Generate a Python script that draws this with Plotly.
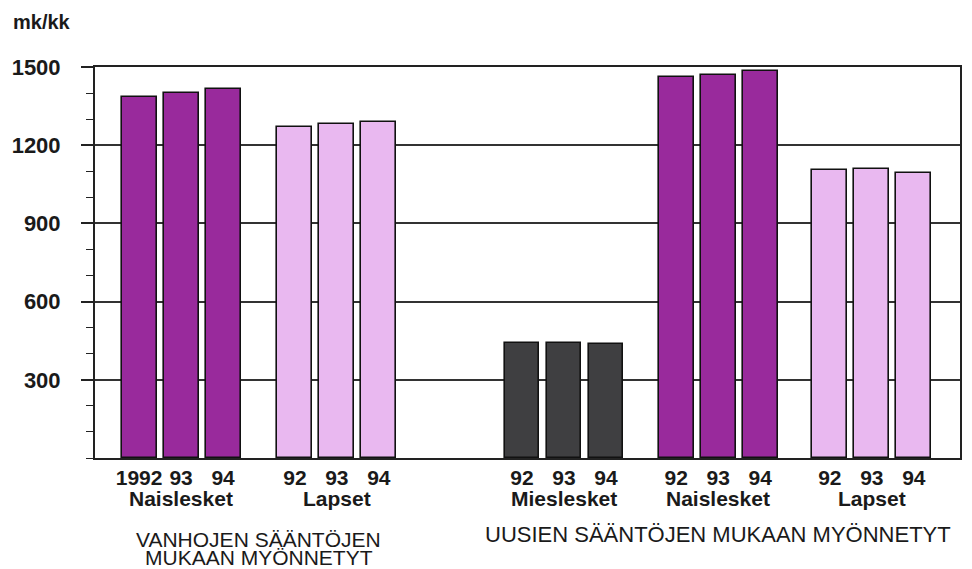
import plotly.graph_objects as go

# ---- data ----
group_names = ["Naislesket", "Lapset", "Mieslesket", "Naislesket", "Lapset"]
year_labels = [["1992", "93", "94"], ["92", "93", "94"], ["92", "93", "94"],
               ["92", "93", "94"], ["92", "93", "94"]]
old_naislesket = [1385, 1400, 1415]
old_lapset = [1270, 1280, 1290]
new_mieslesket = [440, 442, 438]
new_naislesket = [1460, 1470, 1485]
new_lapset = [1105, 1110, 1095]
series_values = [old_naislesket, old_lapset, new_mieslesket, new_naislesket, new_lapset]
section_titles = ["VANHOJEN SÄÄNTÖJEN", "MUKAAN MYÖNNETYT", "UUSIEN SÄÄNTÖJEN MUKAAN MYÖNNETYT"]
y_ticks = [300, 600, 900, 1200, 1500]
unit_label = "mk/kk"

# ---- layout / style ----
PURPLE = "#992a9c"
LIGHT = "#e9b8f0"
DARK = "#3f3f41"
group_colors = [PURPLE, LIGHT, DARK, PURPLE, LIGHT]
gaps = [0.71, 2.41, 0.67, 0.66]  # spacing between groups (in bar slots)
FONT = "Liberation Sans"
TXT = "#1a1a1a"

starts = [0.0]
for g in gaps:
    starts.append(starts[-1] + 3 + g)

fig = go.Figure()
tickvals, ticktext = [], []
for gi, (vals, yrs) in enumerate(zip(series_values, year_labels)):
    xs = [starts[gi] + i for i in range(len(vals))]
    tickvals += xs
    ticktext += yrs
    fig.add_trace(go.Bar(
        x=xs, y=vals, width=0.83,
        marker=dict(color=group_colors[gi], line=dict(color="#111111", width=1.6)),
        showlegend=False, hoverinfo="y",
    ))

annotations = []
for gi, name in enumerate(group_names):
    annotations.append(dict(
        x=starts[gi] + 1, y=0, xref="x", yref="paper", text=name, showarrow=False,
        xanchor="center", yanchor="middle", yshift=-40,
        font=dict(family=FONT, size=21, color=TXT, weight="bold")))

sec1_x = (starts[0] + starts[1]) / 2 + 1
sec2_x = (starts[2] + starts[4]) / 2 + 1
annotations.append(dict(x=sec1_x, y=0, xref="x", yref="paper", text=section_titles[0],
                        showarrow=False, xanchor="center", yanchor="middle", yshift=-81,
                        font=dict(family=FONT, size=21, color=TXT)))
annotations.append(dict(x=sec1_x, y=0, xref="x", yref="paper", text=section_titles[1],
                        showarrow=False, xanchor="center", yanchor="middle", yshift=-99,
                        font=dict(family=FONT, size=21, color=TXT)))
annotations.append(dict(x=sec2_x, y=0, xref="x", yref="paper", text=section_titles[2],
                        showarrow=False, xanchor="center", yanchor="middle", yshift=-76,
                        font=dict(family=FONT, size=22, color=TXT)))
annotations.append(dict(x=0, y=1, xref="paper", yref="paper", text=unit_label,
                        showarrow=False, xanchor="left", yanchor="middle",
                        xshift=-84, yshift=45,
                        font=dict(family=FONT, size=20, color=TXT, weight="bold")))

# page body has an 8px margin, so the figure is sized/offset to compensate
fig.update_layout(
    width=964, height=561,
    margin=dict(l=87, r=12, t=59, b=111, autoexpand=False),
    paper_bgcolor="white", plot_bgcolor="white",
    bargap=0,
    annotations=annotations,
    xaxis=dict(
        range=[-1.05, starts[-1] + 2 + 1.1],
        tickvals=tickvals, ticktext=ticktext, ticks="",
        tickfont=dict(family=FONT, size=21, color=TXT, weight="bold"),
        showgrid=False, zeroline=False, automargin=False,
        showline=True, linecolor="#222222", linewidth=2, mirror=True,
        ticklabelstandoff=0,
    ),
    yaxis=dict(
        range=[0, 1500],
        tickvals=y_ticks, ticktext=[str(v) for v in y_ticks],
        ticks="outside", ticklen=12, tickwidth=1.6, tickcolor="#222222",
        tickfont=dict(family=FONT, size=22, color=TXT, weight="bold"),
        ticklabelstandoff=16, automargin=False,
        showgrid=True, gridcolor="#333333", gridwidth=1.5,
        zeroline=False,
        showline=True, linecolor="#222222", linewidth=2, mirror=True,
        minor=dict(dtick=100, ticks="outside", ticklen=7, tickwidth=1.4,
                   tickcolor="#222222", showgrid=False),
    ),
)

fig.write_html("out.html")
